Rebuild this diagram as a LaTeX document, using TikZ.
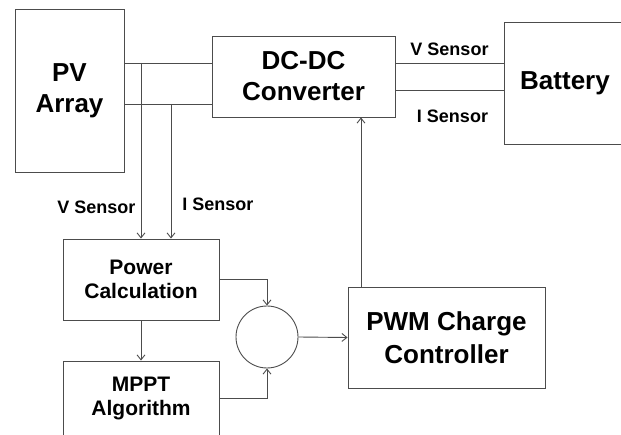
\documentclass[tikz,border=0pt]{standalone}
\usepackage{fontspec}
\setmainfont{Liberation Sans}
\usetikzlibrary{arrows.meta}
\tikzset{
  block/.style={draw=black!70, line width=0.9pt, align=center, inner sep=0pt, font=\bfseries},
  big/.style={font=\fontsize{26}{31}\selectfont\bfseries},
  mid/.style={font=\fontsize{21}{24}\selectfont\bfseries},
  sens/.style={font=\fontsize{18}{21}\selectfont\bfseries},
  wire/.style={draw=black!70, line width=0.9pt},
  arr/.style={wire, -{Straight Barb[length=5pt,width=8pt]}}
}
\begin{document}
\begin{tikzpicture}[x=1pt, y=-1pt]
        \useasboundingbox (0, 0) rectangle (621, 435);
        \clip (0, 0) rectangle (621, 435);
        \fill[white] (0, 0) rectangle (621, 435);
        % blocks
        \node[block, big, minimum width=109pt, minimum height=163pt] (pv) at (69.5, 90.5) {PV\\Array};
        \node[block, big, minimum width=183pt, minimum height=81pt] (conv) at (303.5, 76.5) {DC-DC\\Converter};
        \node[block, big, minimum width=122pt, minimum height=122pt] (bat) at (565, 83) {Battery};
        \node[block, mid, minimum width=156pt, minimum height=81pt] (pc) at (141, 279.5) {Power\\Calculation};
        \node[block, mid, minimum width=156pt, minimum height=75pt] (mppt) at (141, 398.5) {MPPT\\Algorithm};
        \node[draw=black!70, line width=0.9pt, circle, minimum size=62pt, inner sep=0pt] (sum) at (267, 337) {};
        \node[block, big, font=\fontsize{26}{33}\selectfont\bfseries, minimum width=197pt, minimum height=101pt] (pwm) at (446.5, 337.5) {PWM Charge\\Controller};
        % sensor taps
        \coordinate (vt) at (141, 63);
        \coordinate (it) at (171, 104);
        \coordinate (ib) at (450, 90);
        \coordinate (fb) at (361, 200);
        \draw[wire] (vt -| pv.east) -- (vt -| conv.west);
        \draw[wire] (it -| pv.east) -- (it -| conv.west);
        \draw[wire] (vt -| conv.east) -- (vt -| bat.west);
        \draw[wire] (ib -| conv.east) -- (ib -| bat.west);
        \draw[arr] (vt) -- (vt |- pc.north);
        \draw[arr] (it) -- (it |- pc.north);
        \draw[arr] (pc.south) -- (mppt.north);
        \draw[arr] (pc.east) -| (sum.north);
        \draw[arr] (mppt.east) -| (sum.south);
        \draw[arr] (sum.east) -- (pwm.west);
        \draw[arr] (fb |- pwm.north) -- (fb |- conv.south);
        % labels
        \node[sens] (vsl) at (96.5, 207) {V Sensor};
        \node[sens] (isl) at (218, 204) {I Sensor};
        \node[sens] (vsr) at (449.5, 49) {V Sensor};
        \node[sens] (isr) at (452.5, 116.5) {I Sensor};
      \end{tikzpicture}
\end{document}
